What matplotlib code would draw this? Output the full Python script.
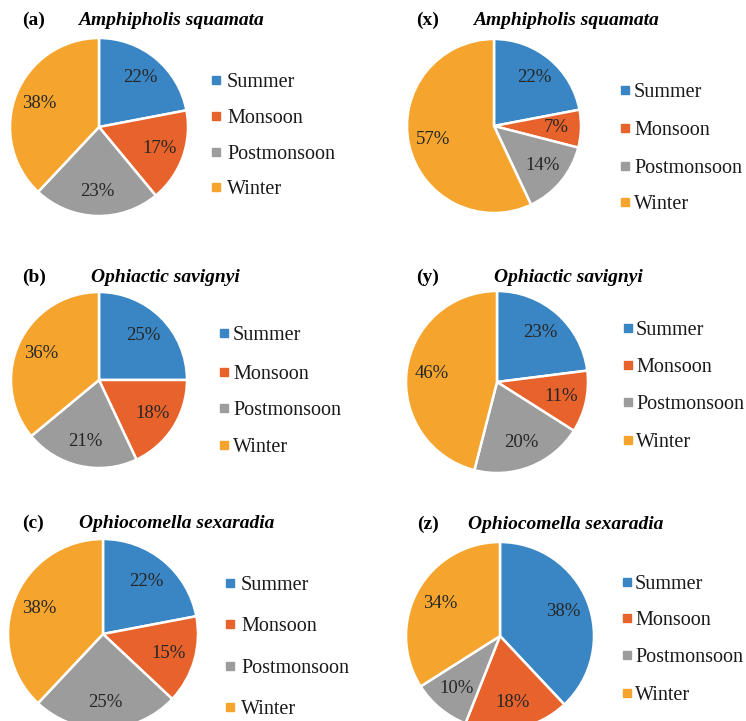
import matplotlib.pyplot as plt
from matplotlib.patches import Rectangle

plt.rcParams['font.family'] = 'Liberation Serif'

seasons = ['Summer', 'Monsoon', 'Postmonsoon', 'Winter']
colors = ['#3a86c4', '#e8622c', '#9c9c9c', '#f5a52e']

panel_tags = ['(a)', '(x)', '(b)', '(y)', '(c)', '(z)']
species = ['Amphipholis squamata', 'Amphipholis squamata',
           'Ophiactic savignyi', 'Ophiactic savignyi',
           'Ophiocomella sexaradia', 'Ophiocomella sexaradia']

a_vals = [22, 17, 23, 38]
x_vals = [22, 7, 14, 57]
b_vals = [25, 18, 21, 36]
y_vals = [23, 11, 20, 46]
c_vals = [22, 15, 25, 38]
z_vals = [38, 18, 10, 34]
all_vals = [a_vals, x_vals, b_vals, y_vals, c_vals, z_vals]

W, H = 746, 721
# pie centre (px), radius (px)
pies = [(99, 127, 89), (494, 126, 87),
        (99, 380, 88), (497, 382, 91),
        (103, 634, 95), (500, 636, 94)]
# tag x, title centre x, baseline y
heads = [(22, 171, 25), (416, 566, 25),
         (22, 165, 282), (416, 568, 282),
         (22, 177, 528), (417, 566, 529)]
# legend marker x, text x, row y's
legends = [(216, 227, [80, 116, 152, 187]), (625, 634, [90, 128, 166, 202]),
           (224, 233, [333, 372, 408, 445]), (628, 636, [328, 365, 402, 440]),
           (230, 241, [583, 624, 666, 707]), (627, 635, [582, 618, 655, 693])]

fig = plt.figure(figsize=(W / 100, H / 100), dpi=100)

pad = 1.03
for vals, (cx, cy, r) in zip(all_vals, pies):
    R = r * pad
    ax = fig.add_axes([(cx - R) / W, 1 - (cy + R) / H, 2 * R / W, 2 * R / H])
    ax.pie(vals, colors=colors, startangle=90, counterclock=False,
           autopct='%.0f%%', pctdistance=0.72,
           wedgeprops=dict(edgecolor='white', linewidth=1.8),
           textprops=dict(fontsize=13.5, color='#262626'))
    ax.set_xlim(-pad, pad)
    ax.set_ylim(-pad, pad)
    ax.axis('off')

# overlay for titles and legends
ov = fig.add_axes([0, 0, 1, 1])
ov.set_xlim(0, W)
ov.set_ylim(H, 0)
ov.axis('off')

for tag, name, (tx, sx, ty) in zip(panel_tags, species, heads):
    ov.text(tx, ty, tag, fontsize=14, fontweight='bold', va='baseline', ha='left')
    ov.text(sx, ty, name, fontsize=14, fontweight='bold', style='italic',
            va='baseline', ha='center')

for mx, lx, rows in legends:
    for s, c, ry in zip(seasons, colors, rows):
        ov.add_patch(Rectangle((mx - 4, ry - 4), 8, 8, color=c))
        ov.text(lx, ry, s, fontsize=14.5, va='center_baseline', ha='left',
                color='#1a1a1a')

fig.savefig('out.png', dpi=100)
